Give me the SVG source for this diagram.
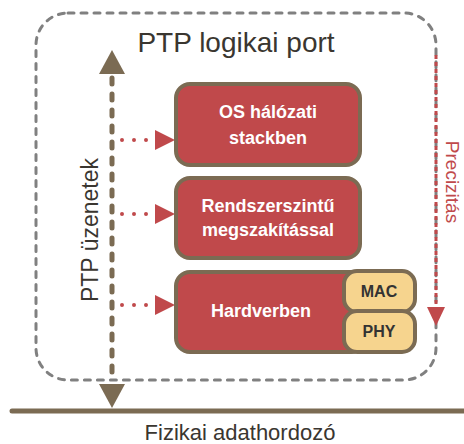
<svg xmlns="http://www.w3.org/2000/svg" width="464" height="444" viewBox="0 0 464 444">
<style>
.node{fill:#c0494b;stroke:#7b6b53;stroke-width:4}
.sub{fill:#f6d48e;stroke:#7b6b53;stroke-width:4}
.nt{font-family:"Liberation Sans",Arial,sans-serif;font-weight:bold;font-size:18px;fill:#ffffff;text-anchor:middle}
.st{font-family:"Liberation Sans",Arial,sans-serif;font-weight:bold;font-size:16px;fill:#333333;text-anchor:middle}
.lbl{font-family:"Liberation Sans",Arial,sans-serif;fill:#3a3630;text-anchor:middle}
.dots{stroke:#c0494b;stroke-width:4;stroke-linecap:round;stroke-dasharray:0 12;fill:none}
.rhead{fill:#c0494b}
.bhead{fill:#7b6b53}
</style>
<rect x="0" y="0" width="464" height="444" fill="#ffffff"/>
<g id="port">
<rect x="36" y="13" width="400" height="367" rx="32" fill="none" stroke="#808080" stroke-width="3" stroke-dasharray="6 7" stroke-linecap="round"/>
<text class="lbl" x="236" y="52" font-size="28">PTP logikai port</text>
</g>
<g id="medium">
<line x1="12" y1="411" x2="464" y2="411" stroke="#7b6b53" stroke-width="5" stroke-linecap="round"/>
<text class="lbl" x="240" y="440" font-size="22">Fizikai adathordozó</text>
</g>
<g id="connectors">
<line x1="112" y1="78" x2="112" y2="382" stroke="#7b6b53" stroke-width="5" stroke-linecap="round" stroke-dasharray="6 10"/>
<polygon class="bhead" points="112,50 99,74 125,74"/>
<polygon class="bhead" points="112,408 99,384 125,384"/>
<text class="lbl" transform="translate(98,230) rotate(-90)" font-size="23">PTP üzenetek</text>
<line x1="436" y1="55" x2="436" y2="310" stroke="#c0494b" stroke-width="3" stroke-dasharray="4 3"/>
<polygon class="rhead" points="436,326 427,307 445,307"/>
<text transform="translate(446,182) rotate(90)" font-family="Liberation Sans,Arial,sans-serif" font-size="19" fill="#c0494b" text-anchor="middle">Precizitás</text>
<line class="dots" x1="122" y1="140" x2="150" y2="140"/>
<polygon class="rhead" points="175,140 155,130 155,150"/>
<line class="dots" x1="122" y1="214" x2="150" y2="214"/>
<polygon class="rhead" points="175,214 155,204 155,224"/>
<line class="dots" x1="122" y1="305" x2="150" y2="305"/>
<polygon class="rhead" points="175,305 155,295 155,315"/>
</g>
<g id="os">
<rect class="node" x="176" y="84" width="184" height="81" rx="14"/>
<text class="nt" x="268" y="118">OS hálózati</text>
<text class="nt" x="268" y="144">stackben</text>
</g>
<g id="rendszer">
<rect class="node" x="176" y="178" width="184" height="80" rx="14"/>
<text class="nt" x="268" y="212">Rendszerszintű</text>
<text class="nt" x="268" y="236">megszakítással</text>
</g>
<g id="hardver">
<rect class="node" x="176" y="272" width="190" height="80" rx="14"/>
<text class="nt" x="261" y="317">Hardverben</text>
</g>
<g id="mac">
<rect class="sub" x="344" y="271" width="71" height="41" rx="13"/>
<text class="st" x="379" y="297">MAC</text>
</g>
<g id="phy">
<rect class="sub" x="344" y="311" width="71" height="41" rx="13"/>
<text class="st" x="379" y="337">PHY</text>
</g>
</svg>
